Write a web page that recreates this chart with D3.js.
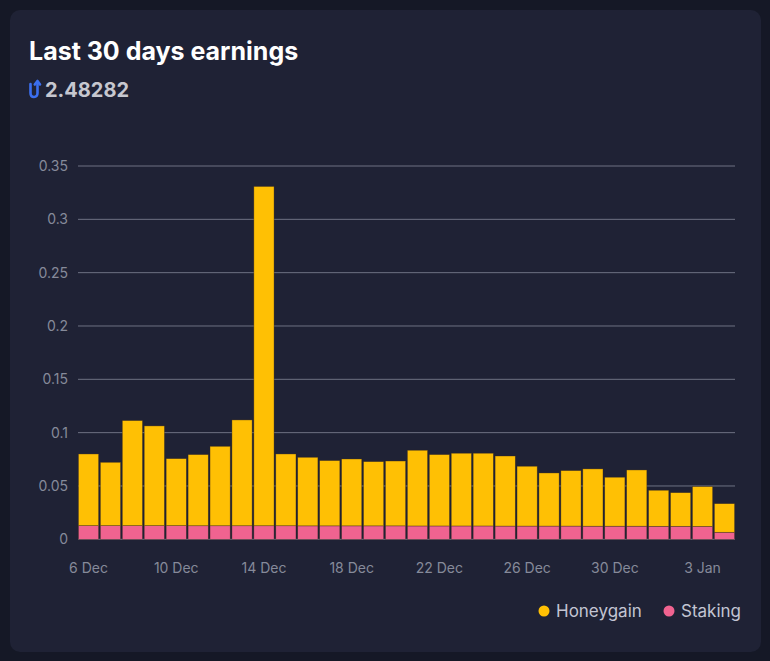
<!DOCTYPE html>
<html><head><meta charset="utf-8">
<script src="https://cdn.jsdelivr.net/npm/d3@7"></script>
<style>
html,body{margin:0;padding:0;background:#151826;}
svg{display:block;font-family:Inter, "Noto Sans", sans-serif;}
</style></head><body>
<svg id="c" width="770" height="661"></svg>
<script>
const dates = ["6 Dec","7 Dec","8 Dec","9 Dec","10 Dec","11 Dec","12 Dec","13 Dec","14 Dec","15 Dec","16 Dec","17 Dec","18 Dec","19 Dec","20 Dec","21 Dec","22 Dec","23 Dec","24 Dec","25 Dec","26 Dec","27 Dec","28 Dec","29 Dec","30 Dec","31 Dec","1 Jan","2 Jan","3 Jan","4 Jan"];
const totals = [0.0800,0.0722,0.1113,0.1063,0.0756,0.0794,0.0872,0.1119,0.3308,0.0800,0.0769,0.0738,0.0753,0.0728,0.0734,0.0835,0.0794,0.0807,0.0807,0.0781,0.0685,0.0622,0.0644,0.0660,0.0582,0.0650,0.0460,0.0437,0.0494,0.0334];
const staking = [0.0128,0.0128,0.0128,0.0128,0.0128,0.0127,0.0127,0.0127,0.0127,0.0127,0.0126,0.0126,0.0126,0.0126,0.0126,0.0125,0.0125,0.0125,0.0125,0.0124,0.0124,0.0124,0.0124,0.0123,0.0123,0.0123,0.0122,0.0122,0.0121,0.0066];
const honeygain = totals.map((t,i)=>+(t-staking[i]).toFixed(4));
const yTicks = [0,0.05,0.1,0.15,0.2,0.25,0.3,0.35];
const xTickLabels = ["6 Dec","10 Dec","14 Dec","18 Dec","22 Dec","26 Dec","30 Dec","3 Jan"];
const seriesNames = ["Honeygain","Staking"];
const colors = {Honeygain:"#ffc004", Staking:"#f06390"};
const headline = "2.48282";

const svg = d3.select("#c");
svg.append("rect").attr("x",10).attr("y",10).attr("width",751).attr("height",642).attr("rx",10).attr("fill","#1f2235");

svg.append("text").attr("x",29).attr("y",60).attr("fill","#ffffff").attr("font-size",25).attr("font-weight",700).text("Last 30 days earnings");
const ic = svg.append("g").attr("transform","translate(29,80)").attr("fill","none").attr("stroke","#3b6ff0").attr("stroke-width",2.6).attr("stroke-linecap","round");
ic.append("path").attr("d","M1.5,4 V13 Q1.5,17 5,17 Q8.5,17 8.5,13 V2");
ic.append("path").attr("d","M5.8,4.5 L8.5,1 L11,4.5").attr("stroke-linejoin","round");
svg.append("text").attr("x",45).attr("y",97).attr("fill","#c6c7cf").attr("font-size",20).attr("font-weight",700).text(headline);

const pLeft=78, pRight=735, pTop=166, pBottom=539.3;
const x = d3.scaleBand().domain(dates).range([pLeft,pRight]).paddingInner(0.08).paddingOuter(0.02);
const y = d3.scaleLinear().domain([0,0.35]).range([pBottom,pTop]);

const grid = svg.append("g");
grid.selectAll("line").data(yTicks).join("line")
  .attr("x1",pLeft).attr("x2",pRight).attr("y1",d=>y(d)).attr("y2",d=>y(d))
  .attr("stroke","#6e7183").attr("stroke-width",1);

const yAxis = d3.axisLeft(y).tickValues(yTicks).tickSize(0).tickPadding(10).tickFormat(d=>d===0?"0":String(+d.toFixed(2)));
const ya = svg.append("g").attr("transform",`translate(${pLeft},0)`).call(yAxis);
ya.select(".domain").remove();
ya.selectAll("text").attr("fill","#868a9a").attr("font-size",14).attr("font-family","Inter, sans-serif");

const data = dates.map((d,i)=>({date:d,Staking:staking[i],Honeygain:honeygain[i]}));
const stack = d3.stack().keys(["Staking","Honeygain"])(data);
svg.append("g").selectAll("g").data(stack).join("g").attr("fill",s=>colors[s.key])
  .selectAll("rect").data(s=>s).join("rect")
  .attr("x",d=>x(d.data.date)).attr("width",x.bandwidth())
  .attr("y",d=>y(d[1])).attr("height",d=>y(d[0])-y(d[1]))
  .attr("stroke","#3a2a20").attr("stroke-width",0.6).attr("stroke-opacity",0.6);

const xAxis = d3.axisBottom(x).tickValues(xTickLabels).tickSize(0).tickPadding(24);
const xa = svg.append("g").attr("transform",`translate(0,${pBottom})`).call(xAxis);
xa.select(".domain").remove();
xa.selectAll("text").attr("fill","#868a9a").attr("font-size",14).attr("font-family","Inter, sans-serif");

const leg = svg.append("g");
const legX = [544,669];
seriesNames.forEach((n,i)=>{
  leg.append("circle").attr("cx",legX[i]).attr("cy",611).attr("r",5.5).attr("fill",colors[n]);
  leg.append("text").attr("x",legX[i]+12).attr("y",617).attr("fill","#c3c5d3").attr("font-size",17).text(n);
});
</script></body></html>
